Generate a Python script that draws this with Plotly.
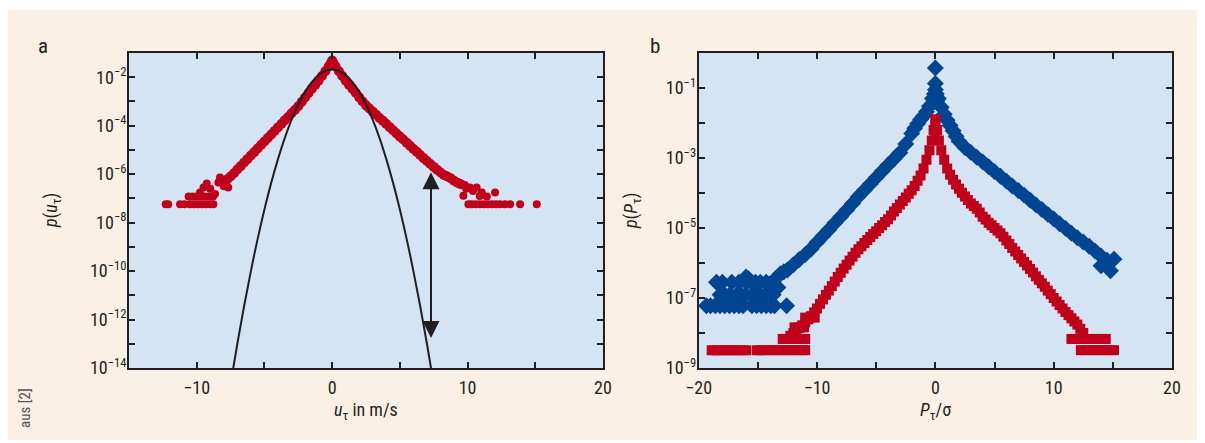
import numpy as np
import plotly.graph_objects as go

# ---------------- data ----------------
# Panel a: red dots, velocity increments u_tau (m/s) vs log10 p(u_tau)
a_core_u = [-8.0, -7.75, -7.5, -7.25, -7.0, -6.75, -6.5, -6.25, -6.0, -5.75, -5.5, -5.25,
            -5.0, -4.75, -4.5, -4.25, -4.0, -3.75, -3.5, -3.25, -3.0, -2.75, -2.5, -2.25,
            -2.0, -1.75, -1.5, -1.25, -1.0, -0.75, -0.5, -0.25,
            -0.1, 0.0, 0.0, 0.1,
            0.25, 0.5, 0.75, 1.0, 1.25, 1.5, 1.75, 2.0, 2.25, 2.5, 2.75, 3.0, 3.25, 3.5,
            3.75, 4.0, 4.25, 4.5, 4.75, 5.0, 5.25, 5.5, 5.75, 6.0, 6.25, 6.5, 6.75, 7.0,
            7.25, 7.5, 7.75, 8.0, 8.25, 8.5, 8.75, 9.0, 9.25, 9.5]
a_core_logp = [-6.35, -6.22, -6.10, -5.96, -5.81, -5.67, -5.52, -5.38, -5.23, -5.09, -4.94, -4.80,
               -4.65, -4.51, -4.36, -4.22, -4.07, -3.93, -3.78, -3.64, -3.49, -3.35, -3.20, -3.02,
               -2.84, -2.66, -2.48, -2.32, -2.14, -1.95, -1.75, -1.55,
               -1.42, -1.31, -1.45, -1.42,
               -1.55, -1.75, -1.95, -2.14, -2.32, -2.48, -2.65, -2.83, -3.00, -3.16, -3.29, -3.42,
               -3.55, -3.68, -3.80, -3.93, -4.06, -4.19, -4.32, -4.45, -4.57, -4.70, -4.83, -4.96,
               -5.08, -5.21, -5.34, -5.46, -5.58, -5.70, -5.82, -5.93, -6.03, -6.10, -6.17, -6.27,
               -6.35, -6.42]
a_tail_u = [-12.29, -12.1, -11.23, -10.9, -10.5, -10.2, -9.9, -9.6, -9.3, -9.0, -8.77,
            -10.6, -10.3, -10.0, -9.7, -9.4, -9.1, -8.8,
            -7.67, -8.4, -9.26, -8.65, -9.76, -8.0, -9.0, -8.2, -7.9, -9.5, -8.28,
            9.69, 10.18, 10.67, 11.05, 11.42, 12.03, 9.9, 10.4, 9.8, 10.9,
            10.06, 10.3, 10.6, 10.9, 11.2, 11.5, 11.8, 12.1, 12.4, 12.76, 13.14, 13.88, 15.11]
a_tail_logp = [-7.24, -7.24, -7.24, -7.24, -7.24, -7.24, -7.24, -7.24, -7.24, -7.24, -7.24,
               -6.92, -6.92, -6.92, -6.92, -6.92, -6.92, -6.92,
               -6.55, -6.34, -6.39, -6.82, -6.76, -6.50, -6.60, -6.25, -6.30, -6.55, -6.14,
               -6.89, -6.55, -6.55, -6.76, -6.92, -6.76, -6.60, -6.70, -6.45, -6.90,
               -7.24, -7.24, -7.24, -7.24, -7.24, -7.24, -7.24, -7.24, -7.24, -7.24, -7.24, -7.24, -7.24]

# Panel a: black Gaussian curve (read points)
gauss_u = [-7.5, -7.0, -6.5, -6.0, -5.5, -5.0, -4.5, -4.0, -3.5, -3.0, -2.5, -2.0, -1.5, -1.0, -0.5,
           0.0, 0.5, 1.0, 1.5, 2.0, 2.5, 3.0, 3.5, 4.0, 4.5, 5.0, 5.5, 6.0, 6.5, 7.0, 7.5]
gauss_logp = [-14.67, -13.0, -11.44, -10.0, -8.67, -7.46, -6.36, -5.38, -4.51, -3.76, -3.12, -2.60,
              -2.20, -1.91, -1.74, -1.68, -1.74, -1.91, -2.20, -2.60, -3.12, -3.76, -4.51, -5.38,
              -6.36, -7.46, -8.67, -10.0, -11.44, -13.0, -14.67]

# Panel a: double arrow (u position, log10 of both tips)
arrow_u = 7.3
arrow_top_logp = -5.86
arrow_bottom_logp = -12.76

# Panel b: blue diamonds, P_tau/sigma vs log10 p(P_tau)
b_blue_u = [-12.5, -12.0, -11.5, -11.0, -10.5, -10.0, -9.5, -9.0, -8.5, -8.0, -7.5, -7.0, -6.5,
            -6.0, -5.5, -5.0, -4.5, -4.0, -3.5, -3.0, -2.5, -2.0, -1.75, -1.5, -1.25, -1.0,
            -0.75, -0.5, -0.25,
            0.0, 0.0, -0.08, 0.08, -0.15, 0.15, 0.0,
            0.25, 0.5, 0.75, 1.0, 1.25, 1.5, 1.75, 2.0, 2.5, 3.0, 3.5, 4.0, 4.5, 5.0, 5.5,
            6.0, 6.5, 7.0, 7.5, 8.0, 8.5, 9.0, 9.5, 10.0, 10.5, 11.0, 11.5, 12.0, 12.5, 13.0,
            13.5, 14.0, 14.5]
b_blue_logp = [-6.20, -6.05, -5.90, -5.76, -5.60, -5.41, -5.23, -5.05, -4.86, -4.68, -4.49, -4.30,
               -4.10, -3.92, -3.74, -3.56, -3.38, -3.20, -3.03, -2.85, -2.60, -2.30, -2.15, -2.02,
               -1.90, -1.80, -1.68, -1.52, -1.30,
               -0.43, -0.87, -1.17, -1.17, -1.31, -1.36, -1.05,
               -1.30, -1.55, -1.75, -1.92, -2.07, -2.22, -2.38, -2.52, -2.70, -2.84, -2.98, -3.11,
               -3.25, -3.39, -3.52, -3.66, -3.80, -3.93, -4.06, -4.20, -4.34, -4.47, -4.61, -4.74,
               -4.88, -5.01, -5.15, -5.28, -5.40, -5.52, -5.66, -5.80, -5.92]
b_blue_tail_u = [-19.35, -19.0, -18.6, -18.2, -17.8, -17.4, -17.0, -16.6, -16.25, -15.5, -15.1,
                 -14.7, -14.3, -13.9, -13.6, -12.57,
                 -18.2, -17.8, -17.4, -16.8, -16.4, -16.0, -15.4, -14.9, -14.4, -13.7,
                 -18.5, -18.0, -17.2, -16.6, -16.0, -15.6, -15.2, -14.8, -14.3,
                 -16.0, -13.1, -13.5, -12.8, -14.0, -13.3, -15.8,
                 14.0, 14.8, 15.1, 14.4]
b_blue_tail_logp = [-7.22, -7.22, -7.22, -7.22, -7.22, -7.22, -7.22, -7.22, -7.22, -7.22, -7.22,
                    -7.22, -7.22, -7.22, -7.22, -7.22,
                    -6.91, -6.91, -6.91, -6.91, -6.91, -6.91, -6.91, -6.91, -6.91, -6.91,
                    -6.55, -6.55, -6.55, -6.55, -6.55, -6.55, -6.55, -6.55, -6.55,
                    -6.40, -6.31, -6.45, -6.25, -6.60, -6.70, -6.45,
                    -6.08, -6.22, -5.89, -5.95]

# Panel b: red squares
b_red_u = [-12.5, -12.0, -11.5, -11.0, -10.5, -10.0, -9.5, -9.0, -8.5, -8.0, -7.5, -7.0, -6.5,
           -6.0, -5.5, -5.0, -4.5, -4.0, -3.5, -3.0, -2.5, -2.0, -1.75, -1.5, -1.25, -1.0,
           -0.75, -0.5, -0.3, -0.15,
           0.0, 0.0, 0.0, 0.0,
           0.15, 0.3, 0.5, 0.75, 1.0, 1.25, 1.5, 1.75, 2.0, 2.5, 3.0, 3.5, 4.0, 4.5, 5.0,
           5.5, 6.0, 6.5, 7.0, 7.5, 8.0, 8.5, 9.0, 9.5, 10.0, 10.5, 11.0, 11.5, 12.0, 12.5]
b_red_logp = [-8.17, -8.00, -7.86, -7.70, -7.52, -7.30, -7.04, -6.79, -6.53, -6.28, -6.05, -5.82,
              -5.61, -5.43, -5.26, -5.09, -4.92, -4.75, -4.53, -4.33, -4.13, -3.92, -3.80, -3.65,
              -3.50, -3.30, -3.05, -2.78, -2.50, -2.20,
              -1.89, -2.05, -2.25, -2.45,
              -2.20, -2.50, -2.78, -3.05, -3.30, -3.48, -3.62, -3.76, -3.88, -4.10, -4.30, -4.45,
              -4.68, -4.85, -5.00, -5.15, -5.36, -5.57, -5.77, -5.97, -6.17, -6.38, -6.58, -6.79,
              -7.00, -7.20, -7.40, -7.58, -7.76, -8.00]
b_red_mid_u = [-12.25, -11.75, -11.25, -10.75, -10.25, -9.75, -9.25, -8.75, -8.25, -7.75, -7.25,
               -6.75, -6.25, -5.75, -5.25, -4.75, -4.25, -3.75, -3.25, -2.75, -2.25,
               2.25, 2.75, 3.25, 3.75, 4.25, 4.75, 5.25, 5.75, 6.25, 6.75, 7.25, 7.75, 8.25,
               8.75, 9.25, 9.75, 10.25, 10.75, 11.25, 11.75, 12.25]
b_red_mid_logp = [-8.08, -7.93, -7.78, -7.61, -7.41, -7.17, -6.91, -6.66, -6.40, -6.16, -5.93,
                  -5.71, -5.52, -5.34, -5.17, -5.00, -4.83, -4.64, -4.43, -4.23, -4.02,
                  -3.99, -4.20, -4.37, -4.56, -4.76, -4.92, -5.07, -5.25, -5.46, -5.67, -5.87,
                  -6.07, -6.27, -6.48, -6.68, -6.89, -7.10, -7.30, -7.49, -7.67, -7.88]
b_red_tail_u = [-12.9, -12.6, -12.2, -11.8, -11.4, -11.0, -11.9, -11.5, -11.1, -11.0, -10.6, -10.2,
                -18.9, -18.55, -18.2, -17.85, -17.5, -17.15, -16.8, -16.3, -16.0, -15.1, -14.7,
                -14.3, -14.0, -13.65, -13.3, -12.95, -12.6, -12.25, -11.9, -11.55, -11.2, -11.0,
                11.5, 11.9, 12.3, 12.7, 13.1, 13.7, 14.1, 14.4,
                12.3, 12.7, 13.1, 13.5, 13.9, 14.3, 14.7, 15.1]
b_red_tail_logp = [-8.17, -8.17, -8.17, -8.17, -8.17, -8.17, -7.84, -7.84, -7.84, -7.56, -7.56, -7.56,
                   -8.49, -8.49, -8.49, -8.49, -8.49, -8.49, -8.49, -8.49, -8.49, -8.49, -8.49,
                   -8.49, -8.49, -8.49, -8.49, -8.49, -8.49, -8.49, -8.49, -8.49, -8.49, -8.49,
                   -8.17, -8.17, -8.17, -8.17, -8.17, -8.17, -8.17, -8.17,
                   -8.49, -8.49, -8.49, -8.49, -8.49, -8.49, -8.49, -8.49]

# Tick positions / labels
a_xrange = [-15, 20]
a_yexp_range = [-14, -1]
a_ylabel_exps = [-14, -12, -10, -8, -6, -4, -2]
b_xrange = [-20, 20]
b_yexp_range = [-9, 0]
b_ylabel_exps = [-9, -7, -5, -3, -1]
x_label_step = 10
x_minor_step = 5

pairs = [(a_core_u, a_core_logp), (a_tail_u, a_tail_logp), (gauss_u, gauss_logp),
         (b_blue_u, b_blue_logp), (b_blue_tail_u, b_blue_tail_logp),
         (b_red_u, b_red_logp), (b_red_mid_u, b_red_mid_logp), (b_red_tail_u, b_red_tail_logp)]
for i, (xs, ys) in enumerate(pairs):
    assert len(xs) == len(ys), (i, len(xs), len(ys))

# ---------------- styling ----------------
RED = "#C0001B"
BLUE = "#004591"
INK = "#231F20"
PLOTBG = "#D4E4F3"
CREAM = "#FAF0E6"
FONT = "Liberation Sans Narrow, Roboto Condensed, Arial Narrow, sans-serif"

# the page body adds an 8 px margin; the figure is laid out in reference pixels minus that
OFF = 8
W, H = 1205 - OFF, 443 - OFF
L, T = 129 - OFF, 53 - OFF
R = W - (1172 - OFF)
B = H - (368 - OFF)
pw, ph = W - L - R, H - T - B


def px_x(px):
    return (px - OFF - L) / pw


def px_y(py):
    return (H - B - (py - OFF)) / ph


def p(vals):
    return np.power(10.0, np.asarray(vals, dtype=float))


def sup_label(e):
    return "10<sup>%s</sup>" % (("−%d" % -e) if e < 0 else str(e))


fig = go.Figure()

# Panel a
fig.add_trace(go.Scatter(x=a_tail_u, y=p(a_tail_logp), mode="markers",
                         marker=dict(color=RED, size=8, symbol="circle", line=dict(width=0)),
                         xaxis="x", yaxis="y", showlegend=False))
fig.add_trace(go.Scatter(x=a_core_u, y=p(a_core_logp), mode="markers",
                         marker=dict(color=RED, size=10, symbol="circle", line=dict(width=0)),
                         xaxis="x", yaxis="y", showlegend=False))
fig.add_trace(go.Scatter(x=gauss_u, y=p(gauss_logp), mode="lines",
                         line=dict(color=INK, width=2, shape="spline"),
                         xaxis="x", yaxis="y", hoverinfo="skip", showlegend=False))

# Panel b
fig.add_trace(go.Scatter(x=b_blue_tail_u, y=p(b_blue_tail_logp), mode="markers",
                         marker=dict(color=BLUE, size=13, symbol="diamond", line=dict(width=0)),
                         xaxis="x2", yaxis="y2", showlegend=False))
fig.add_trace(go.Scatter(x=b_blue_u, y=p(b_blue_logp), mode="markers",
                         marker=dict(color=BLUE, size=13, symbol="diamond", line=dict(width=0)),
                         xaxis="x2", yaxis="y2", showlegend=False))
fig.add_trace(go.Scatter(x=b_red_tail_u, y=p(b_red_tail_logp), mode="markers",
                         marker=dict(color=RED, size=10, symbol="square", line=dict(width=0)),
                         xaxis="x2", yaxis="y2", showlegend=False))
fig.add_trace(go.Scatter(x=b_red_mid_u, y=p(b_red_mid_logp), mode="markers",
                         marker=dict(color=RED, size=10, symbol="square", line=dict(width=0)),
                         xaxis="x2", yaxis="y2", showlegend=False))
fig.add_trace(go.Scatter(x=b_red_u, y=p(b_red_logp), mode="markers",
                         marker=dict(color=RED, size=10, symbol="square", line=dict(width=0)),
                         xaxis="x2", yaxis="y2", showlegend=False))

axis_common = dict(showline=True, linewidth=2, linecolor=INK, mirror="allticks", ticks="inside",
                   ticklen=6, tickwidth=1.5, tickcolor=INK, showgrid=False, zeroline=False,
                   tickfont=dict(family=FONT, size=18, color=INK))
minor_common = dict(ticks="inside", ticklen=6, tickwidth=1.5, tickcolor=INK, showgrid=False)


def xaxis_spec(rng, domain, anchor):
    return dict(domain=domain, range=rng, tickmode="linear", tick0=0, dtick=x_label_step,
                minor=dict(tickmode="linear", tick0=0, dtick=x_minor_step, **minor_common),
                anchor=anchor, ticklabelstandoff=2, **axis_common)


def yaxis_spec(exp_rng, label_exps, anchor):
    return dict(domain=[0, 1], type="log", range=exp_rng,
                tickmode="array", tickvals=[10.0 ** e for e in label_exps],
                ticktext=[sup_label(e) for e in label_exps],
                minor=dict(tickmode="array",
                           tickvals=[10.0 ** e for e in range(exp_rng[0], exp_rng[1] + 1)],
                           **minor_common),
                anchor=anchor, ticklabelstandoff=-3, **axis_common)


fig.update_layout(
    width=W, height=H, autosize=False,
    margin=dict(l=L, r=R, t=T, b=B, pad=0),
    paper_bgcolor=CREAM, plot_bgcolor=PLOTBG,
    xaxis=xaxis_spec(a_xrange, [0, px_x(603)], "y"),
    yaxis=yaxis_spec(a_yexp_range, a_ylabel_exps, "x"),
    xaxis2=xaxis_spec(b_xrange, [px_x(698.7), 1], "y2"),
    yaxis2=yaxis_spec(b_yexp_range, b_ylabel_exps, "x2"),
    font=dict(family=FONT, color=INK),
)

# white strips (top and bottom) around the cream frame; the left one comes from the page margin
white = dict(type="rect", xref="paper", yref="paper", fillcolor="white", line=dict(width=0), layer="above")
fig.add_shape(x0=px_x(-50), x1=px_x(1300), y0=px_y(10), y1=px_y(-50), **white)
fig.add_shape(x0=px_x(-50), x1=px_x(1300), y0=px_y(500), y1=px_y(440), **white)


def ann(text, px, py, size=18, angle=0, color=INK):
    fig.add_annotation(text=text, x=px_x(px), y=px_y(py), xref="paper", yref="paper",
                       showarrow=False, textangle=angle, xanchor="center", yanchor="middle",
                       font=dict(family=FONT, size=size, color=color))


ann("a", 43, 46, size=21)
ann("b", 655, 46, size=21)
ann("<i>p</i>(<i>u</i><sub>τ</sub>)", 52, 211, angle=-90)
ann("<i>p</i>(<i>P</i><sub>τ</sub>)", 632, 211, angle=-90)
ann("<i>u</i><sub>τ</sub> in m/s", 366, 411)
ann("<i>P</i><sub>τ</sub>/σ", 935, 411)
ann("aus [2]", 25, 408, size=15, angle=-90, color="#555555")

fig.add_annotation(x=arrow_u, y=arrow_bottom_logp, ax=arrow_u, ay=arrow_top_logp,
                   xref="x", yref="y", axref="x", ayref="y", text="", showarrow=True,
                   arrowhead=2, startarrowhead=2, arrowside="end+start",
                   arrowsize=1.7, startarrowsize=1.7, arrowwidth=2, arrowcolor=INK,
                   standoff=0, startstandoff=0)

fig.write_html("out.html")
